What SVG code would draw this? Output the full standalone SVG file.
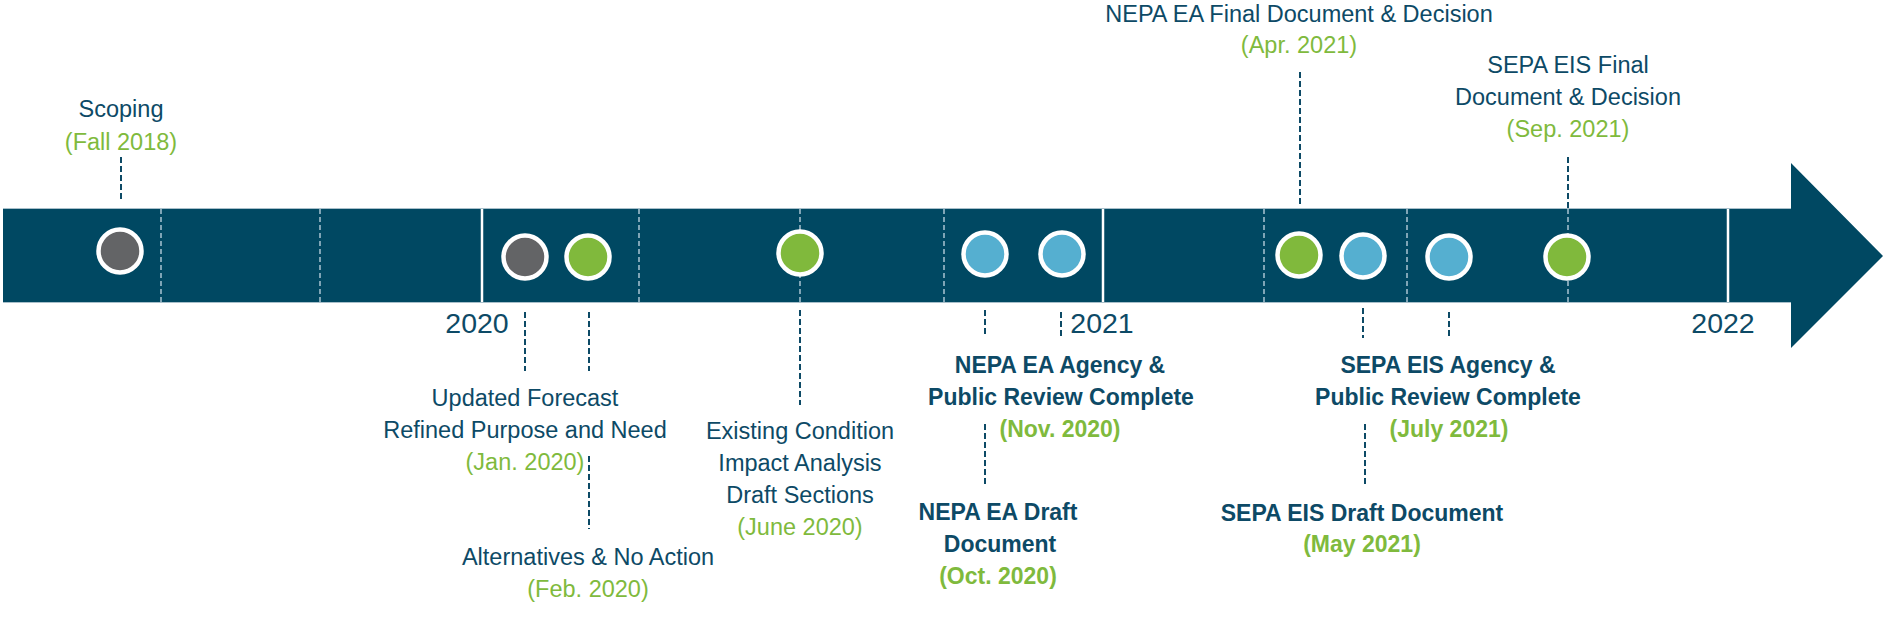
<svg xmlns="http://www.w3.org/2000/svg" width="1883" height="637" viewBox="0 0 1883 637">
<style>
text{font-family:"Liberation Sans",Arial,sans-serif;font-size:23.5px;text-anchor:middle}
.d{fill:#0d4a66}
.g{fill:#7fba3d}
.b{font-weight:bold;font-size:23px}
.yr{font-size:28.5px;fill:#0d4a66}
.div{stroke:#9fbccb;stroke-width:1.6;stroke-dasharray:5 3;fill:none}
.sol{stroke:#ffffff;stroke-width:2.5;fill:none}
.con{stroke:#0d4a66;stroke-width:2;stroke-dasharray:6 3;fill:none}
.dot{stroke:#ffffff;stroke-width:4.5}
.gray{fill:#636466}.green{fill:#80b93c}.blue{fill:#55afd0}
</style>
<g id="timeline">
<path d="M3,208 H1791 V163 L1883,256 L1791,348 V303 H3 Z" fill="#004862"/>
<line x1="3" y1="208.5" x2="1791" y2="208.5" stroke="#a8bfca" stroke-width="1"/>
<line x1="3" y1="302.5" x2="1791" y2="302.5" stroke="#a8bfca" stroke-width="1"/>
<g id="dividers">
<line class="div" x1="161" y1="209" x2="161" y2="302"/>
<line class="div" x1="320" y1="209" x2="320" y2="302"/>
<line class="sol" x1="482" y1="209" x2="482" y2="302"/>
<line class="div" x1="639" y1="209" x2="639" y2="302"/>
<line class="div" x1="800" y1="209" x2="800" y2="302"/>
<line class="div" x1="944" y1="209" x2="944" y2="302"/>
<line class="sol" x1="1103" y1="209" x2="1103" y2="302"/>
<line class="div" x1="1264" y1="209" x2="1264" y2="302"/>
<line class="div" x1="1407" y1="209" x2="1407" y2="302"/>
<line class="div" x1="1568" y1="209" x2="1568" y2="302"/>
<line class="sol" x1="1728" y1="209" x2="1728" y2="302"/>
</g>
<text class="yr" x="477" y="333">2020</text>
<text class="yr" x="1102" y="333">2021</text>
<text class="yr" x="1723" y="333">2022</text>
</g>
<g id="connectors">
<line class="con" x1="121" y1="157" x2="121" y2="202"/>
<line class="con" x1="1300" y1="72" x2="1300" y2="207"/>
<line class="con" x1="1568" y1="157" x2="1568" y2="208"/>
<line class="con" x1="525" y1="312" x2="525" y2="371"/>
<line class="con" x1="589" y1="312" x2="589" y2="371"/>
<line class="con" x1="589" y1="456" x2="589" y2="529"/>
<line class="con" x1="800" y1="310" x2="800" y2="405"/>
<line class="con" x1="985" y1="310" x2="985" y2="337"/>
<line class="con" x1="985" y1="424" x2="985" y2="487"/>
<line class="con" x1="1061" y1="312" x2="1061" y2="338"/>
<line class="con" x1="1363" y1="308" x2="1363" y2="338"/>
<line class="con" x1="1365" y1="424" x2="1365" y2="487"/>
<line class="con" x1="1449" y1="312" x2="1449" y2="338"/>
</g>
<g id="scoping">
<circle class="dot gray" cx="120" cy="251" r="21.5"/>
<text class="d" x="121" y="117">Scoping</text>
<text class="g" x="121" y="150">(Fall 2018)</text>
</g>
<g id="updated-forecast">
<circle class="dot gray" cx="525" cy="257" r="21.5"/>
<text class="d" x="525" y="406">Updated Forecast</text>
<text class="d" x="525" y="438">Refined Purpose and Need</text>
<text class="g" x="525" y="470">(Jan. 2020)</text>
</g>
<g id="alternatives">
<circle class="dot green" cx="588" cy="257" r="21.5"/>
<text class="d" x="588" y="565">Alternatives &amp; No Action</text>
<text class="g" x="588" y="597">(Feb. 2020)</text>
</g>
<g id="existing-condition">
<circle class="dot green" cx="800" cy="253" r="21.5"/>
<text class="d" x="800" y="439">Existing Condition</text>
<text class="d" x="800" y="471">Impact Analysis</text>
<text class="d" x="800" y="503">Draft Sections</text>
<text class="g" x="800" y="535">(June 2020)</text>
</g>
<g id="nepa-draft">
<circle class="dot blue" cx="985" cy="254" r="21.5"/>
<text class="d b" x="998" y="520">NEPA EA Draft</text>
<text class="d b" x="1000" y="552">Document</text>
<text class="g b" x="998" y="584">(Oct. 2020)</text>
</g>
<g id="nepa-review">
<circle class="dot blue" cx="1062" cy="254" r="21.5"/>
<text class="d b" x="1060" y="373">NEPA EA Agency &amp;</text>
<text class="d b" x="1061" y="405">Public Review Complete</text>
<text class="g b" x="1060" y="437">(Nov. 2020)</text>
</g>
<g id="nepa-final">
<circle class="dot green" cx="1299" cy="255" r="21.5"/>
<text class="d" x="1299" y="22">NEPA EA Final Document &amp; Decision</text>
<text class="g" x="1299" y="53">(Apr. 2021)</text>
</g>
<g id="sepa-draft">
<circle class="dot blue" cx="1363" cy="256" r="21.5"/>
<text class="d b" x="1362" y="521">SEPA EIS Draft Document</text>
<text class="g b" x="1362" y="552">(May 2021)</text>
</g>
<g id="sepa-review">
<circle class="dot blue" cx="1449" cy="257" r="21.5"/>
<text class="d b" x="1448" y="373">SEPA EIS Agency &amp;</text>
<text class="d b" x="1448" y="405">Public Review Complete</text>
<text class="g b" x="1449" y="437">(July 2021)</text>
</g>
<g id="sepa-final">
<circle class="dot green" cx="1567" cy="257" r="21.5"/>
<text class="d" x="1568" y="73">SEPA EIS Final</text>
<text class="d" x="1568" y="105">Document &amp; Decision</text>
<text class="g" x="1568" y="137">(Sep. 2021)</text>
</g>
</svg>
